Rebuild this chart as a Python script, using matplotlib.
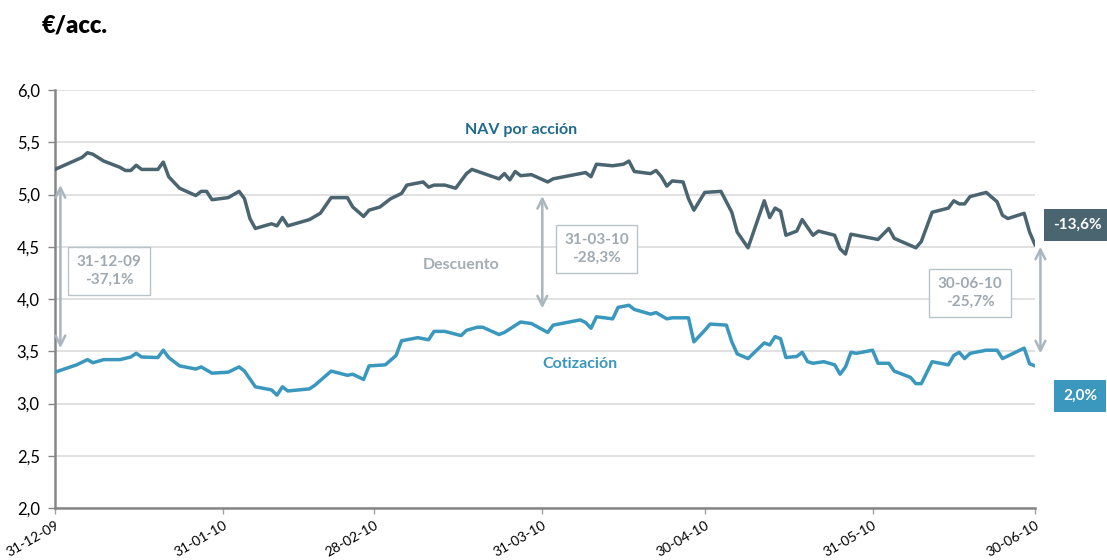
import numpy as np
import pandas as pd
import matplotlib
matplotlib.use("Agg")
import matplotlib.pyplot as plt

plt.rcParams['font.family'] = ['Lato', 'DejaVu Sans']

# NAV por acción (vertices)
nav_dates = ["2009-12-31", "2010-01-05", "2010-01-06", "2010-01-07", "2010-01-09", "2010-01-12",
             "2010-01-13", "2010-01-14", "2010-01-15", "2010-01-16", "2010-01-19", "2010-01-20",
             "2010-01-21", "2010-01-23", "2010-01-26", "2010-01-27", "2010-01-28", "2010-01-29",
             "2010-02-01", "2010-02-03", "2010-02-04", "2010-02-05", "2010-02-06", "2010-02-09",
             "2010-02-10", "2010-02-11", "2010-02-12", "2010-02-16", "2010-02-18", "2010-02-20",
             "2010-02-23", "2010-02-24", "2010-02-26", "2010-02-27", "2010-03-01", "2010-03-03",
             "2010-03-05", "2010-03-06", "2010-03-09", "2010-03-10", "2010-03-11", "2010-03-13",
             "2010-03-15", "2010-03-17", "2010-03-18", "2010-03-23", "2010-03-24", "2010-03-25",
             "2010-03-26", "2010-03-27", "2010-03-29", "2010-04-01", "2010-04-02", "2010-04-08",
             "2010-04-09", "2010-04-10", "2010-04-13", "2010-04-15", "2010-04-16", "2010-04-17",
             "2010-04-20", "2010-04-21", "2010-04-22", "2010-04-23", "2010-04-24", "2010-04-26",
             "2010-04-27", "2010-04-28", "2010-04-30", "2010-05-03", "2010-05-05", "2010-05-06",
             "2010-05-08", "2010-05-11", "2010-05-12", "2010-05-13", "2010-05-14", "2010-05-15",
             "2010-05-17", "2010-05-18", "2010-05-20", "2010-05-21", "2010-05-24", "2010-05-25",
             "2010-05-26", "2010-05-27", "2010-06-01", "2010-06-03", "2010-06-04", "2010-06-08",
             "2010-06-09", "2010-06-11", "2010-06-14", "2010-06-15", "2010-06-16", "2010-06-17",
             "2010-06-18", "2010-06-21", "2010-06-23", "2010-06-24", "2010-06-25", "2010-06-28",
             "2010-06-29", "2010-06-30"]
nav_values = [5.24, 5.355, 5.40, 5.385, 5.32, 5.26,
              5.23, 5.23, 5.28, 5.24, 5.24, 5.31,
              5.17, 5.06, 4.99, 5.03, 5.03, 4.95,
              4.97, 5.03, 4.96, 4.77, 4.675, 4.72,
              4.70, 4.78, 4.70, 4.76, 4.82, 4.97,
              4.97, 4.88, 4.79, 4.85, 4.88, 4.96,
              5.01, 5.09, 5.12, 5.07, 5.09, 5.09,
              5.06, 5.20, 5.24, 5.15, 5.20, 5.14,
              5.22, 5.18, 5.19, 5.12, 5.15, 5.21,
              5.17, 5.29, 5.275, 5.29, 5.32, 5.22,
              5.20, 5.23, 5.17, 5.08, 5.13, 5.12,
              4.96, 4.85, 5.02, 5.03, 4.83, 4.64,
              4.49, 4.94, 4.78, 4.87, 4.84, 4.61,
              4.65, 4.76, 4.61, 4.65, 4.61, 4.48,
              4.43, 4.62, 4.57, 4.675, 4.58, 4.49,
              4.55, 4.83, 4.87, 4.94, 4.91, 4.91,
              4.98, 5.02, 4.93, 4.80, 4.77, 4.82,
              4.64, 4.52]

# Cotización
cot_dates = ["2009-12-31", "2010-01-04", "2010-01-06", "2010-01-07", "2010-01-09", "2010-01-12",
             "2010-01-14", "2010-01-15", "2010-01-16", "2010-01-19", "2010-01-20", "2010-01-21",
             "2010-01-23", "2010-01-26", "2010-01-27", "2010-01-29", "2010-02-01", "2010-02-03",
             "2010-02-04", "2010-02-06", "2010-02-09", "2010-02-10", "2010-02-11", "2010-02-12",
             "2010-02-16", "2010-02-17", "2010-02-18", "2010-02-20", "2010-02-23", "2010-02-24",
             "2010-02-26", "2010-02-27", "2010-03-02", "2010-03-04", "2010-03-05", "2010-03-08",
             "2010-03-10", "2010-03-11", "2010-03-13", "2010-03-16", "2010-03-17", "2010-03-19",
             "2010-03-20", "2010-03-23", "2010-03-24", "2010-03-27", "2010-03-29", "2010-04-01",
             "2010-04-02", "2010-04-07", "2010-04-08", "2010-04-09", "2010-04-10", "2010-04-13",
             "2010-04-14", "2010-04-16", "2010-04-17", "2010-04-20", "2010-04-21", "2010-04-23",
             "2010-04-24", "2010-04-27", "2010-04-28", "2010-04-30", "2010-05-01", "2010-05-04",
             "2010-05-05", "2010-05-06", "2010-05-08", "2010-05-11", "2010-05-12", "2010-05-13",
             "2010-05-14", "2010-05-15", "2010-05-17", "2010-05-18", "2010-05-19", "2010-05-20",
             "2010-05-22", "2010-05-24", "2010-05-25", "2010-05-26", "2010-05-27", "2010-05-28",
             "2010-05-31", "2010-06-01", "2010-06-03", "2010-06-04", "2010-06-07", "2010-06-08",
             "2010-06-09", "2010-06-11", "2010-06-14", "2010-06-15", "2010-06-16", "2010-06-17",
             "2010-06-18", "2010-06-21", "2010-06-23", "2010-06-24", "2010-06-28", "2010-06-29",
             "2010-06-30"]
cot_values = [3.30, 3.37, 3.42, 3.39, 3.42, 3.42,
              3.445, 3.48, 3.445, 3.44, 3.51, 3.44,
              3.36, 3.33, 3.35, 3.29, 3.30, 3.35,
              3.31, 3.16, 3.13, 3.08, 3.16, 3.12,
              3.14, 3.175, 3.22, 3.31, 3.27, 3.28,
              3.23, 3.36, 3.37, 3.46, 3.60, 3.63,
              3.61, 3.69, 3.69, 3.65, 3.70, 3.73,
              3.73, 3.66, 3.68, 3.78, 3.765, 3.68,
              3.75, 3.80, 3.775, 3.72, 3.83, 3.81,
              3.92, 3.94, 3.90, 3.855, 3.87, 3.81,
              3.82, 3.82, 3.59, 3.70, 3.76, 3.75,
              3.59, 3.475, 3.43, 3.58, 3.56, 3.64,
              3.62, 3.44, 3.45, 3.49, 3.40, 3.385,
              3.40, 3.37, 3.28, 3.35, 3.49, 3.48,
              3.51, 3.385, 3.385, 3.31, 3.25, 3.19,
              3.19, 3.40, 3.37, 3.46, 3.49, 3.43,
              3.48, 3.51, 3.51, 3.43, 3.53, 3.38,
              3.36]

tick_dates = ["2009-12-31", "2010-01-31", "2010-02-28", "2010-03-31", "2010-04-30", "2010-05-31", "2010-06-30"]
tick_labels = ["31-12-09", "31-01-10", "28-02-10", "31-03-10", "30-04-10", "31-05-10", "30-06-10"]
y_ticks = [2.0, 2.5, 3.0, 3.5, 4.0, 4.5, 5.0, 5.5, 6.0]

# discount arrows: date, low value, high value, label
disc_dates = ["2010-01-01", "2010-03-31", "2010-07-01"]
disc_low = [3.53, 3.91, 3.48]
disc_high = [5.09, 4.985, 4.50]
disc_labels = ["31-12-09\n-37,1%", "31-03-10\n-28,3%", "30-06-10\n-25,7%"]
box_dates = ["2010-01-10", "2010-04-10", "2010-06-18"]
box_values = [4.27, 4.48, 4.06]

nav_change = "-13,6%"
cot_change = "2,0%"

nav_color = "#4a6470"
cot_color = "#3a97bd"
grey = "#a9b6be"

fig = plt.figure(figsize=(11.07, 5.6), dpi=100)
ax = fig.add_axes([55 / 1107, 1 - 508 / 560, (1035 - 55) / 1107, (508 - 90) / 560])

nav_x = pd.to_datetime(nav_dates)
cot_x = pd.to_datetime(cot_dates)
ax.plot(nav_x, nav_values, color=nav_color, lw=2.5, solid_joinstyle='round', zorder=3)
ax.plot(cot_x, cot_values, color=cot_color, lw=2.5, solid_joinstyle='round', zorder=3)

ax.set_xlim(pd.Timestamp(tick_dates[0]), pd.Timestamp(tick_dates[-1]))
ax.set_ylim(2.0, 6.0)
ax.set_yticks(y_ticks)
ax.set_yticklabels([f"{v:.1f}".replace(".", ",") for v in y_ticks], fontsize=12)
ax.set_xticks(pd.to_datetime(tick_dates))
ax.set_xticklabels(tick_labels, rotation=30, ha='right', rotation_mode='anchor', fontsize=10)

ax.grid(axis='y', color='#d9d9d9', lw=1.1)
ax.set_axisbelow(True)
for s in ['top', 'right']:
    ax.spines[s].set_visible(False)
for s in ['left', 'bottom']:
    ax.spines[s].set_color('#868686')
    ax.spines[s].set_linewidth(1.8)
ax.tick_params(axis='y', length=5, width=1, color='#868686', pad=6)
ax.tick_params(axis='x', length=4, width=1, color='#a0a0a0', pad=4)

# discount arrows and boxes
for d, lo, hi in zip(disc_dates, disc_low, disc_high):
    ax.annotate('', xy=(pd.Timestamp(d), hi), xytext=(pd.Timestamp(d), lo),
                arrowprops=dict(arrowstyle='<->,head_length=0.7,head_width=0.35',
                                color=grey, lw=1.8, shrinkA=0, shrinkB=0),
                annotation_clip=False)
for d, v, lab in zip(box_dates, box_values, disc_labels):
    ax.text(pd.Timestamp(d), v, lab, ha='center', va='center', fontsize=11,
            fontweight='bold', color='#9fa9b1', linespacing=1.3,
            bbox=dict(boxstyle='square,pad=0.55', fc='white', ec='#b8c3ca', lw=1))

ax.text(pd.Timestamp("2010-03-27"), 5.62, "NAV por acción", ha='center', va='center',
        fontsize=11.5, fontweight='bold', color='#1f6a8c')
ax.text(pd.Timestamp("2010-04-07"), 3.38, "Cotización", ha='center', va='center',
        fontsize=11.5, fontweight='bold', color=cot_color)
ax.text(pd.Timestamp("2010-03-16"), 4.33, "Descuento", ha='center', va='center',
        fontsize=11.5, fontweight='bold', color='#a3adb4')

# right side change boxes
fig.text(1077 / 1107, 1 - 225 / 560, nav_change, ha='center', va='center', fontsize=11,
         fontweight='bold', color='white',
         bbox=dict(boxstyle='square,pad=0.6', fc=nav_color, ec='none'))
fig.text(1080 / 1107, 1 - 396 / 560, cot_change, ha='center', va='center', fontsize=11,
         fontweight='bold', color='white',
         bbox=dict(boxstyle='square,pad=0.6', fc=cot_color, ec='none'))

fig.text(42 / 1107, 1 - 25 / 560, "€/acc.", ha='left', va='center', fontsize=17,
         fontweight='heavy', color='black')

fig.savefig("out.png", dpi=100)
